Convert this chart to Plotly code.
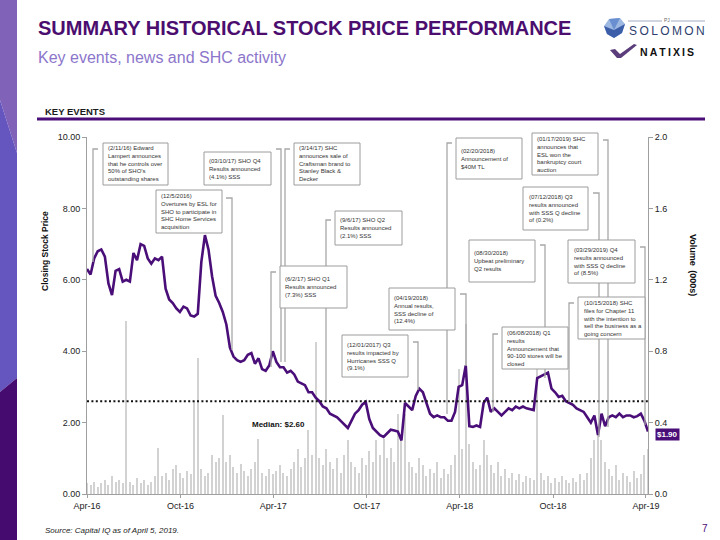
import plotly.graph_objects as go
import pandas as pd

# ---------------- data ----------------
week_start = "2016-04-01"
closing_price = [
    6.30, 6.15, 6.60, 6.80, 6.85, 6.65, 5.90, 5.57, 6.25, 6.30,
    5.95, 6.00, 5.95, 6.75, 6.55, 7.00, 6.95, 6.60, 6.45, 6.60,
    6.55, 6.65, 5.75, 5.45, 5.35, 5.20, 5.10, 5.25, 5.20, 5.00,
    4.97, 5.05, 6.50, 7.25, 6.85, 6.10, 5.55, 5.35, 5.10, 4.75,
    4.10, 3.85, 3.75, 3.70, 3.75, 3.90, 3.95, 3.65, 3.80, 3.50,
    3.45, 3.60, 4.00, 3.70, 3.55, 3.55, 3.40, 3.45, 3.35, 3.15,
    3.10, 3.05, 2.85, 2.85, 2.70, 2.60, 2.45, 2.40, 2.25, 2.20,
    2.15, 2.05, 1.95, 1.85, 2.05, 2.25, 2.35, 2.50, 2.58, 2.10,
    1.85, 1.75, 1.65, 1.60, 1.70, 1.80, 1.78, 1.75, 1.50, 2.55,
    2.45, 2.35, 2.75, 2.95, 2.85, 2.55, 2.25, 2.15, 2.20, 2.15,
    2.15, 2.05, 2.05, 2.30, 3.00, 3.05, 3.60, 1.90, 1.88, 1.92,
    1.88, 2.55, 2.70, 2.30, 2.40, 2.30, 2.20, 2.30, 2.40, 2.35,
    2.45, 2.40, 2.45, 2.40, 2.38, 2.35, 3.25, 3.30, 3.35, 3.40,
    2.95, 2.85, 2.72, 2.75, 2.60, 2.55, 2.50, 2.40, 2.35, 2.30,
    2.15, 2.00, 2.20, 1.65, 2.25, 1.90, 2.15, 2.20, 2.15, 2.25,
    2.15, 2.20, 2.20, 2.15, 2.18, 2.25, 2.05, 1.75,
]
volume = [
    0.06, 0.05, 0.07, 0.04, 0.06, 0.08, 0.05, 0.10, 0.07, 0.08,
    0.06, 0.97, 0.07, 0.05, 0.09, 0.06, 0.08, 0.05, 0.07, 0.10,
    0.26, 0.10, 0.12, 0.08, 0.14, 0.16, 0.12, 0.09, 0.13, 0.11,
    0.52, 0.76, 0.14, 0.10, 0.12, 0.22, 0.18, 0.20, 0.44, 0.18,
    0.22, 0.15, 0.12, 0.17, 0.13, 0.10, 0.14, 0.18, 0.31, 0.12,
    0.10, 0.14, 0.11, 0.13, 0.16, 0.12, 0.10, 0.14, 0.18, 0.25,
    0.15, 0.20, 0.36, 0.22, 0.85, 0.20, 0.16, 0.25, 0.18, 0.14,
    0.20, 0.12, 0.22, 0.30, 0.18, 0.15, 0.12, 0.20, 0.16, 0.24,
    0.18, 0.30, 0.22, 0.31, 0.20, 0.26, 0.18, 0.45, 0.30, 0.45,
    0.18, 0.15, 0.12, 0.20, 0.16, 0.10, 0.14, 0.12, 0.18, 0.09,
    0.14, 0.11, 0.16, 0.22, 0.70, 0.25, 0.95, 0.28, 0.18, 0.14,
    0.16, 0.30, 0.22, 0.16, 0.12, 0.18, 0.10, 0.14, 0.09, 0.12,
    0.08, 0.11, 0.07, 0.10, 0.09, 0.08, 0.90, 0.12, 0.08, 0.10,
    0.06, 0.09, 0.07, 0.10, 0.08, 0.06, 0.09, 0.07, 0.11, 0.08,
    0.12, 0.20, 0.30, 0.35, 0.30, 0.18, 0.14, 0.10, 0.16, 0.08,
    0.12, 0.10, 0.07, 0.13, 0.09, 0.11, 0.22, 0.25,
]
median_price = 2.60
last_price_label = "$1.90"

x_tick_dates = ["2016-04-01", "2016-10-01", "2017-04-01", "2017-10-01",
                "2018-04-01", "2018-10-01", "2019-04-01"]
x_tick_labels = ["Apr-16", "Oct-16", "Apr-17", "Oct-17", "Apr-18", "Oct-18", "Apr-19"]
price_ticks = [0, 2, 4, 6, 8, 10]
volume_ticks = [0.0, 0.4, 0.8, 1.2, 1.6, 2.0]

event_texts = [
    "(2/11/16) Edward<br>Lampert announces<br>that he controls over<br>50% of SHO's<br>outstanding shares",
    "(03/10/17) SHO Q4<br>Results announced<br>(4.1%) SSS",
    "(3/14/17) SHC<br>announces sale of<br>Craftsman brand to<br>Stanley Black &<br>Decker",
    "(12/5/2016)<br>Overtures by ESL for<br>SHO to participate in<br>SHC Home Services<br>acquisition",
    "(9/6/17) SHO Q2<br>Results announced<br>(2.1%) SSS",
    "(6/2/17) SHO Q1<br>Results announced<br>(7.3%) SSS",
    "(12/01/2017) Q3<br>results impacted by<br>Hurricanes SSS Q<br>(9.1%)",
    "(04/19/2018)<br>Annual results,<br>SSS decline of<br>(12.4%)",
    "(02/20/2018)<br>Announcement of<br>$40M TL",
    "(06/08/2018) Q1<br>results<br>Announcement that<br>90-100 stores will be<br>closed",
    "(08/30/2018)<br>Upbeat preliminary<br>Q2 results",
    "(10/15/2018) SHC<br>files for Chapter 11<br>with the intention to<br>sell the business as a<br>going concern",
    "(03/29/2019) Q4<br>results announced<br>with SSS Q decline<br>of (8.5%)",
    "(07/12/2018) Q3<br>results announced<br>with SSS Q decline<br>of (0.2%)",
    "(01/17/2019) SHC<br>announces that<br>ESL won the<br>bankruptcy court<br>auction",
]

# ---------------- layout geometry (pixels) ----------------
W, H = 720, 540
PL, PR, PT, PB = 87, 648, 137, 494

def fx(px):
    return (px - PL) / (PR - PL)

def fy(py):
    return (PB - py) / (PB - PT)

def path(points, close=True):
    s = "M " + " L ".join(f"{fx(x):.5f},{fy(y):.5f}" for x, y in points)
    return s + (" Z" if close else "")

# box rect (x0,y0,x1,y1) and connector polyline for each event
event_boxes = [
    ((103, 143, 168, 185), [(98, 149), (93, 149), (93, 262)]),
    ((204, 152, 271, 185), [(276, 149), (281, 149), (281, 362)]),
    ((294, 143, 360, 185), [(290, 149), (285, 149), (285, 362)]),
    ((156, 190, 222, 233), [(226, 198), (232, 198), (232, 350)]),
    ((335, 211, 402, 245), [(331, 220), (326, 220), (326, 400)]),
    ((280, 266, 347, 308), [(276, 272), (271, 272), (271, 367)]),
    ((342, 335, 408, 377), [(413, 342), (418, 342), (418, 390)]),
    ((389, 288, 455, 330), [(460, 294), (466, 294), (466, 366)]),
    ((456, 138, 522, 179), [(452, 143), (447, 143), (447, 414)]),
    ((502, 327, 568, 369), [(498, 334), (493, 334), (493, 412)]),
    ((469, 240, 535, 282), [(540, 245), (545, 245), (545, 378)]),
    ((578, 297, 645, 339), [(574, 303), (569, 303), (569, 402)]),
    ((568, 240, 635, 283), [(640, 247), (645, 247), (645, 425)]),
    ((523, 187, 588, 230), [(593, 193), (599, 193), (599, 437)]),
    ((532, 133, 598, 175), [(603, 140), (608, 140), (608, 427)]),
]

FONT = "Liberation Sans, Arial, sans-serif"
PURPLE = "#4a0e78"

dates = pd.date_range(week_start, periods=len(closing_price), freq="7D")

fig = go.Figure()
fig.add_trace(go.Bar(
    x=dates, y=volume, yaxis="y",
    marker=dict(color="#d2d2d2", line=dict(width=0)),
    width=2.2 * 86400000, hoverinfo="skip",
))
fig.add_trace(go.Scatter(
    x=dates, y=closing_price, yaxis="y2", mode="lines",
    line=dict(color=PURPLE, width=2.6),
))

shapes = []
annotations = []

# sidebar
shapes.append(dict(type="path", xref="paper", yref="paper", layer="above",
                   path=path([(0, 0), (17, 0), (17, 153), (0, 100)]),
                   fillcolor="#8062b8", line=dict(width=0)))
shapes.append(dict(type="path", xref="paper", yref="paper", layer="above",
                   path=path([(0, 100), (17, 153), (17, 378), (0, 392)]),
                   fillcolor="#6555bf", line=dict(width=0)))
shapes.append(dict(type="path", xref="paper", yref="paper", layer="above",
                   path=path([(0, 392), (17, 378), (17, 540), (0, 540)]),
                   fillcolor="#450b6e", line=dict(width=0)))

# header rule
shapes.append(dict(type="line", xref="paper", yref="paper", layer="above",
                   x0=fx(37), x1=fx(705), y0=fy(119), y1=fy(119),
                   line=dict(color=PURPLE, width=3.2)))

# logo: gem
shapes.append(dict(type="path", xref="paper", yref="paper", layer="above",
                   path=path([(604, 26), (609, 19), (620, 18), (625, 24), (622, 33), (614, 38), (607, 34)]),
                   fillcolor="#9db9e2", line=dict(width=0)))
shapes.append(dict(type="path", xref="paper", yref="paper", layer="above",
                   path=path([(604, 26), (614, 30), (625, 24), (622, 33), (614, 38), (607, 34)]),
                   fillcolor="#3c5ea8", line=dict(width=0)))
shapes.append(dict(type="path", xref="paper", yref="paper", layer="above",
                   path=path([(609, 19), (614, 30), (620, 18)]),
                   fillcolor="#6a8fd0", line=dict(width=0)))
for xa, xb in [(628, 662), (671, 705)]:
    shapes.append(dict(type="line", xref="paper", yref="paper", layer="above",
                       x0=fx(xa), x1=fx(xb), y0=fy(21), y1=fy(21),
                       line=dict(color="#a3abbf", width=1)))
# logo: natixis mark
shapes.append(dict(type="path", xref="paper", yref="paper", layer="above",
                   path=path([(610, 50), (615, 49), (620, 54), (634, 44), (637, 45), (621, 58), (617, 58)]),
                   fillcolor="#5b3d7c", line=dict(width=0)))

# median line
shapes.append(dict(type="line", xref="paper", yref="y2", layer="above",
                   x0=0, x1=1, y0=median_price, y1=median_price,
                   line=dict(color="#111111", width=2, dash="2px,2.4px")))

# connectors first, then boxes
for (box, conn) in event_boxes:
    shapes.append(dict(type="path", xref="paper", yref="paper", layer="above",
                       path=path(conn, close=False),
                       line=dict(color="#a8a8a8", width=1.3)))
for (box, conn), txt in zip(event_boxes, event_texts):
    x0, y0, x1, y1 = box
    shapes.append(dict(type="rect", xref="paper", yref="paper", layer="above",
                       x0=fx(x0), x1=fx(x1), y0=fy(y1), y1=fy(y0),
                       fillcolor="white", line=dict(color="#9c9c9c", width=1)))
    annotations.append(dict(xref="paper", yref="paper", x=fx(x0 + 3), y=fy((y0 + y1) / 2),
                            xanchor="left", yanchor="middle", align="left",
                            text=txt, showarrow=False,
                            font=dict(family=FONT, size=6, color="#333333")))

def label(text, x, y, size, color="#111111", bold=False, italic=False,
          xanchor="left", angle=0, family=FONT):
    t = text
    if bold:
        t = f"<b>{t}</b>"
    if italic:
        t = f"<i>{t}</i>"
    annotations.append(dict(xref="paper", yref="paper", x=fx(x), y=fy(y),
                            xanchor=xanchor, yanchor="middle", text=t,
                            showarrow=False, textangle=angle,
                            font=dict(family=family, size=size, color=color)))

label("SUMMARY HISTORICAL STOCK PRICE PERFORMANCE", 36, 28.5, 20, "#4b0e6f", bold=True)
label("Key events, news and SHC activity", 36, 58, 16, "#8c76cb")
label("KEY EVENTS", 43, 111.5, 9.5, "#1a1a1a", bold=True)
label("PJ", 666.5, 20, 5, "#666666", xanchor="center")
label("S\u2009O\u2009L\u2009O\u2009M\u2009O\u2009N", 627, 31.5, 12, "#2d3e6e")
label("<b>N\u2009A\u2009T\u2009I\u2009X\u2009I\u2009S</b>", 638, 52, 10.5, "#111111")
label("Closing Stock Price", 45, 251, 8.5, "#111111", bold=True, xanchor="center", angle=-90)
label("Volume\u2002(000s)", 693, 265, 9, "#111111", bold=True, xanchor="center", angle=90)
label("Median: $2.60", 250, 424, 8, "#111111", bold=True)
label("Source: Capital IQ as of April 5, 2019.", 43, 530, 8, "#222222", italic=True)
label("7", 700, 528, 10, PURPLE)

# last price badge
annotations.append(dict(xref="paper", yref="paper", x=fx(667.5), y=fy(434.5),
                        xanchor="center", yanchor="middle",
                        text=f"<b>{last_price_label}</b>", showarrow=False,
                        bgcolor=PURPLE, borderpad=1,
                        font=dict(family=FONT, size=8, color="white")))

axis_common = dict(showgrid=False, zeroline=False, showline=True,
                   linecolor="#9f9f9f", linewidth=1,
                   tickfont=dict(family=FONT, size=9, color="#222222"))

fig.update_layout(
    width=W, height=H,
    margin=dict(l=PL, r=W - PR, t=PT, b=H - PB),
    paper_bgcolor="white", plot_bgcolor="white",
    showlegend=False, barmode="overlay", bargap=0,
    font=dict(family=FONT),
    xaxis=dict(type="date", range=[dates[0], dates[-1]],
               tickvals=x_tick_dates, ticktext=x_tick_labels,
               ticks="outside", ticklen=3, tickcolor="#9f9f9f", **axis_common),
    yaxis=dict(side="right", range=[0, 2], tickvals=volume_ticks, tickformat=".1f",
               ticks="outside", ticklen=4, tickcolor="#9f9f9f", **axis_common),
    yaxis2=dict(overlaying="y", side="left", range=[0, 10], tickvals=price_ticks,
                tickformat=".2f", ticks="outside", ticklen=4, tickcolor="#9f9f9f",
                **axis_common),
    shapes=shapes, annotations=annotations,
)

fig.write_html(
    "out.html",
    config={"displayModeBar": False},
    post_script="document.body.style.margin='0px';document.body.style.overflow='hidden';",
)
